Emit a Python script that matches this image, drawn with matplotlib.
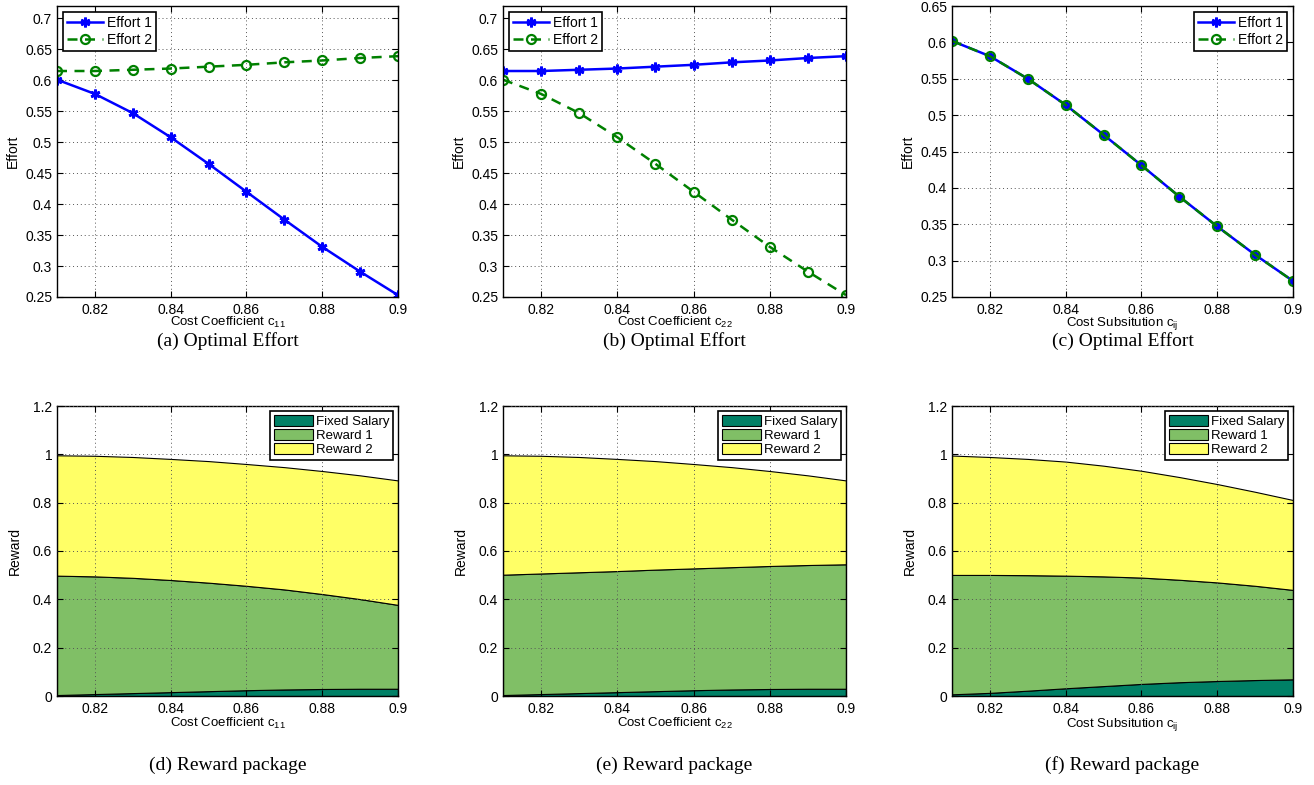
import matplotlib.pyplot as plt
from matplotlib.patches import Patch

plt.rcParams['font.family'] = 'Liberation Sans'
plt.rcParams['mathtext.fontset'] = 'custom'
plt.rcParams['mathtext.rm'] = 'Liberation Sans'
plt.rcParams['mathtext.it'] = 'Liberation Sans'

# cost values on the x axis
cost = [0.81, 0.82, 0.83, 0.84, 0.85, 0.86, 0.87, 0.88, 0.89, 0.90]

# optimal efforts (a), (b) uses the same values swapped
effort_own = [0.601, 0.578, 0.547, 0.508, 0.465, 0.420, 0.375, 0.331, 0.291, 0.253]
effort_other = [0.615, 0.615, 0.617, 0.619, 0.622, 0.625, 0.629, 0.632, 0.636, 0.639]
# (c) both efforts are equal
effort_sub = [0.602, 0.581, 0.550, 0.514, 0.473, 0.431, 0.388, 0.347, 0.308, 0.272]

# reward packages (d), (e) swaps reward 1 and 2
salary_c = [0.004, 0.008, 0.012, 0.016, 0.020, 0.024, 0.027, 0.029, 0.030, 0.030]
reward_own = [0.494, 0.487, 0.477, 0.464, 0.449, 0.432, 0.414, 0.393, 0.371, 0.347]
reward_other = [0.498, 0.499, 0.500, 0.501, 0.503, 0.504, 0.506, 0.509, 0.512, 0.515]
# (f)
salary_s = [0.007, 0.013, 0.022, 0.032, 0.041, 0.050, 0.057, 0.062, 0.066, 0.069]
reward1_s = [0.494, 0.488, 0.478, 0.466, 0.454, 0.440, 0.424, 0.408, 0.390, 0.370]
reward2_s = [0.494, 0.488, 0.481, 0.472, 0.458, 0.442, 0.425, 0.407, 0.389, 0.372]

xlabels = [r'Cost Coefficient $\mathrm{c_{11}}$', r'Cost Coefficient $\mathrm{c_{22}}$',
           r'Cost Subsitution $\mathrm{c_{ij}}$']
top_caps = ['(a) Optimal Effort', '(b) Optimal Effort', '(c) Optimal Effort']
bot_caps = ['(d) Reward package', '(e) Reward package', '(f) Reward package']

area_colors = ['#008066', '#80BF66', '#FFFF66']

W, H = 1314, 785
fig = plt.figure(figsize=(W / 100, H / 100), dpi=100)

lefts = [57, 503, 952]
widths = [341, 343, 341]


def style(ax):
    ax.tick_params(direction='in', top=True, right=True, labelsize=10, length=4)
    ax.tick_params(axis='x', pad=4)
    ax.grid(True, linestyle=(0, (1, 3)), color='#555555', linewidth=0.7)
    for s in ax.spines.values():
        s.set_linewidth(1.0)
    ax.set_xlim(0.81, 0.90)
    ax.set_xticks([0.82, 0.84, 0.86, 0.88, 0.90])
    ax.set_xticklabels(['0.82', '0.84', '0.86', '0.88', '0.9'])


effort_sets = [(effort_own, effort_other), (effort_other, effort_own), (effort_sub, effort_sub)]
for i in range(3):
    ax = fig.add_axes([lefts[i] / W, 1 - 297 / H, widths[i] / W, 291 / H])
    e1, e2 = effort_sets[i]
    ax.plot(cost, e1, '-', marker=(6, 2, 0), color='blue', lw=1.8, ms=7, mew=2,
            label='Effort 1')
    ax.plot(cost, e2, '--o', color='#008000', lw=1.8, ms=6.5, mfc='none', mew=1.6,
            dashes=(4, 3), label='Effort 2')
    style(ax)
    if i < 2:
        ax.set_ylim(0.25, 0.72)
        ax.set_yticks([0.25, 0.3, 0.35, 0.4, 0.45, 0.5, 0.55, 0.6, 0.65, 0.7])
        ax.set_yticklabels(['0.25', '0.3', '0.35', '0.4', '0.45', '0.5', '0.55', '0.6', '0.65', '0.7'])
        loc = 'upper left'
    else:
        ax.set_ylim(0.25, 0.65)
        ax.set_yticks([0.25, 0.3, 0.35, 0.4, 0.45, 0.5, 0.55, 0.6, 0.65])
        ax.set_yticklabels(['0.25', '0.3', '0.35', '0.4', '0.45', '0.5', '0.55', '0.6', '0.65'])
        loc = 'upper right'
    leg = ax.legend(loc=loc, fontsize=10, fancybox=False, edgecolor='black',
                    framealpha=1, handlelength=2.6, borderpad=0.3, labelspacing=0.2,
                    handletextpad=0.3, borderaxespad=0.4)
    leg.get_frame().set_linewidth(1.2)
    ax.set_ylabel('Effort', fontsize=10, labelpad=4)
    ax.set_xlabel(xlabels[i], fontsize=9.5, labelpad=-1)
    cx = (lefts[i] + widths[i] / 2) / W
    fig.text(cx, 1 - 341 / H, top_caps[i], ha='center', va='center',
             family='Liberation Serif', fontsize=14)

reward_sets = [(salary_c, reward_own, reward_other), (salary_c, reward_other, reward_own),
               (salary_s, reward1_s, reward2_s)]
for i in range(3):
    ax = fig.add_axes([lefts[i] / W, 1 - 696 / H, widths[i] / W, 290 / H])
    ax.stackplot(cost, *reward_sets[i], colors=area_colors, edgecolor='black', linewidth=0.8)
    style(ax)
    ax.set_axisbelow(False)
    ax.set_ylim(0, 1.2)
    ax.set_yticks([0, 0.2, 0.4, 0.6, 0.8, 1.0, 1.2])
    ax.set_yticklabels(['0', '0.2', '0.4', '0.6', '0.8', '1', '1.2'])
    handles = [Patch(facecolor=c, edgecolor='black', linewidth=0.8) for c in area_colors]
    leg = ax.legend(handles, ['Fixed Salary', 'Reward 1', 'Reward 2'], loc='upper right',
                    fontsize=9.5, fancybox=False, edgecolor='black', framealpha=1,
                    handlelength=3, handleheight=0.9, borderpad=0.25, labelspacing=0.1,
                    handletextpad=0.2, borderaxespad=0.4)
    leg.get_frame().set_linewidth(1.2)
    ax.set_ylabel('Reward', fontsize=10, labelpad=8)
    ax.set_xlabel(xlabels[i], fontsize=9.5, labelpad=0)
    cx = (lefts[i] + widths[i] / 2) / W
    fig.text(cx, 1 - 765 / H, bot_caps[i], ha='center', va='center',
             family='Liberation Serif', fontsize=14)

fig.savefig('out.png', dpi=100, facecolor='white')
